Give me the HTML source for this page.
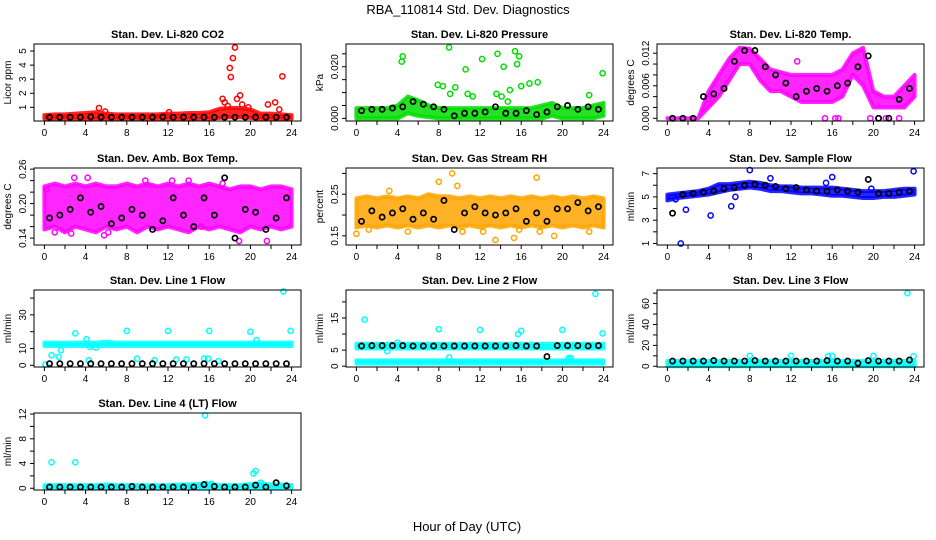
<!DOCTYPE html>
<html><head><meta charset="utf-8">
<style>
html,body{margin:0;padding:0;background:#fff;}
svg{display:block;font-family:"Liberation Sans",Arial,sans-serif;}
</style></head>
<body>
<svg id="chart" width="936" height="540" viewBox="0 0 936 540">
<text x="468" y="14" text-anchor="middle" font-size="13">RBA_110814  Std. Dev. Diagnostics</text>
<text x="467" y="531" text-anchor="middle" font-size="13">Hour of Day (UTC)</text>
</svg>
<script>
// ---- shared data ----
const xTicks = [0,2,4,6,8,10,12,14,16,18,20,22,24];
const xTickLabels = [0,4,8,12,16,20,24];
const bandHours = [0,1,2,3,4,5,6,7,8,9,10,11,12,13,14,15,16,17,18,19,20,21,22,23,24];
const blackHours = [0.5,1.5,2.5,3.5,4.5,5.5,6.5,7.5,8.5,9.5,10.5,11.5,12.5,13.5,14.5,15.5,16.5,17.5,18.5,19.5,20.5,21.5,22.5,23.5];

// CO2
const co2Lo = [0.2,0.2,0.2,0.2,0.2,0.2,0.2,0.2,0.2,0.2,0.2,0.2,0.2,0.2,0.2,0.2,0.2,0.25,0.3,0.3,0.25,0.2,0.2,0.2,0.2];
const co2Hi = [0.45,0.5,0.5,0.55,0.6,0.65,0.55,0.5,0.5,0.5,0.5,0.5,0.55,0.55,0.6,0.6,0.65,0.9,0.95,0.95,0.85,0.55,0.55,0.5,0.45];
const co2OutX = [5.3,5.9,12.1,17.3,17.5,17.8,18.0,18.1,18.3,18.5,18.7,19.0,19.2,19.8,21.7,22.4,22.8,23.1];
const co2OutY = [0.95,0.7,0.65,1.6,1.35,1.1,3.8,3.15,4.5,5.25,1.6,1.85,1.2,1.0,1.2,1.35,0.85,3.2];
const co2Black = [0.3,0.3,0.3,0.3,0.32,0.3,0.3,0.3,0.3,0.3,0.3,0.32,0.3,0.3,0.3,0.3,0.3,0.3,0.3,0.3,0.3,0.3,0.3,0.3];

// Pressure
const presLo = [0,0,0,0,0,0.002,0.001,0.0005,0,0,0,0,0,0,0,0,0,0,0,0.001,0,0,0,0,0.001];
const presHi = [0.004,0.004,0.004,0.004,0.005,0.0085,0.007,0.005,0.004,0.004,0.004,0.004,0.004,0.004,0.004,0.004,0.004,0.004,0.005,0.006,0.004,0.004,0.004,0.005,0.006];
const presOutX = [4.4,4.5,9.0,13.7,15.4,15.8,12.2,14.3,10.6,15.6,7.9,8.4,9.6,9.1,10.8,11.3,13.6,14.1,14.9,16.0,16.8,17.6,22.6,23.9,14.7];
const presOutY = [0.022,0.024,0.0275,0.025,0.026,0.024,0.023,0.020,0.019,0.021,0.013,0.0125,0.012,0.0095,0.0095,0.0085,0.0095,0.0085,0.011,0.0125,0.0135,0.014,0.009,0.0175,0.0065];
const presBlack = [0.003,0.0035,0.0035,0.004,0.0045,0.0065,0.0055,0.0045,0.0035,0.001,0.002,0.002,0.0025,0.0045,0.002,0.002,0.003,0.0015,0.0025,0.0045,0.005,0.0035,0.0045,0.0035];

// Li-820 Temp
const tempLo = [0,0,0,0,0.002,0.004,0.007,0.010,0.010,0.007,0.005,0.005,0.004,0.003,0.003,0.003,0.003,0.004,0.008,0.006,0.002,0.002,0.002,0.002,0.004];
const tempHi = [0,0,0,0,0.005,0.008,0.011,0.013,0.0128,0.011,0.009,0.0085,0.008,0.008,0.008,0.008,0.008,0.009,0.012,0.013,0.005,0.004,0.004,0.006,0.008];
const tempOutX = [15.3,16.3,16.6,19.7,20.5,21.2,22.5,12.6,4.0];
const tempOutY = [0,0,0,0,0,0,0,0.0105,0.0035];
const tempBlack = [0,0,0,0.004,0.0045,0.0055,0.0105,0.0125,0.0125,0.0095,0.008,0.0065,0.004,0.005,0.0055,0.005,0.006,0.0065,0.0095,0.0115,0,0,0.0035,0.0055];

// Amb box temp
const ambLo = [0.155,0.16,0.15,0.16,0.155,0.15,0.16,0.155,0.16,0.15,0.16,0.155,0.16,0.155,0.15,0.16,0.155,0.16,0.155,0.15,0.16,0.155,0.16,0.155,0.16];
const ambHi = [0.23,0.235,0.23,0.235,0.23,0.235,0.23,0.23,0.235,0.23,0.235,0.23,0.235,0.23,0.235,0.23,0.235,0.23,0.225,0.23,0.23,0.225,0.23,0.23,0.225];
const ambOutX = [0.2,2.9,1.0,6.2,14.0,9.8,17.3,18.9,21.6,4.2,2.6,15.2,5.8,12.4];
const ambOutY = [0.225,0.245,0.150,0.15,0.24,0.24,0.235,0.135,0.135,0.245,0.148,0.16,0.145,0.24];
const ambBlack = [0.175,0.18,0.19,0.21,0.185,0.195,0.165,0.175,0.19,0.18,0.155,0.17,0.21,0.18,0.16,0.21,0.18,0.245,0.14,0.19,0.185,0.155,0.175,0.21];

// Gas stream RH
const rhLo = [0.17,0.175,0.17,0.175,0.17,0.175,0.17,0.175,0.17,0.175,0.17,0.175,0.17,0.175,0.17,0.175,0.17,0.175,0.17,0.175,0.17,0.175,0.17,0.175,0.17];
const rhHi = [0.24,0.245,0.24,0.245,0.24,0.245,0.24,0.25,0.245,0.245,0.24,0.245,0.24,0.245,0.24,0.245,0.24,0.245,0.24,0.245,0.24,0.245,0.24,0.245,0.24];
const rhOutX = [0,9.3,17.5,9.8,3.2,15.8,17.8,12.3,19.2,10.3,13.5,15.3,22.6,8.0,1.2,5.0];
const rhOutY = [0.155,0.3,0.29,0.27,0.258,0.165,0.16,0.16,0.15,0.16,0.14,0.145,0.16,0.28,0.165,0.16];
const rhBlack = [0.185,0.21,0.195,0.205,0.215,0.19,0.205,0.19,0.235,0.165,0.205,0.22,0.205,0.2,0.205,0.215,0.185,0.205,0.185,0.215,0.215,0.23,0.21,0.22];

// Sample flow
const sfLo = [4.7,4.9,5.0,5.1,5.2,5.4,5.6,5.7,5.8,5.7,5.5,5.5,5.4,5.3,5.3,5.2,5.1,5.1,5.0,4.9,4.9,5.0,5.0,5.1,5.2];
const sfHi = [5.2,5.3,5.4,5.5,5.7,6.1,6.1,6.2,6.3,6.2,6.0,5.9,5.9,5.8,5.8,5.8,5.8,5.7,5.6,5.5,5.5,5.5,5.6,5.7,5.7];
const sfOutX = [1.3,1.8,4.2,6.2,6.6,8.0,10.0,16.0,15.4,19.8,23.9,0.8];
const sfOutY = [1.0,3.9,3.4,4.2,5.0,7.3,6.6,6.7,6.2,5.7,7.2,4.8];
const sfBlack = [3.6,5.2,5.3,5.4,5.5,5.7,5.8,6.0,6.1,6.0,5.9,5.7,5.8,5.6,5.5,5.5,5.6,5.5,5.4,6.5,5.3,5.3,5.4,5.5];

// Line 1 flow
const l1Lo = [11.5,11.5,11.5,11.5,11.5,11.5,11.5,11.5,11.5,11.5,11.5,11.5,11.5,11.5,11.5,11.5,11.5,11.5,11.5,11.5,11.5,11.5,11.5,11.5,11.5];
const l1Hi = [13.5,13.5,13.5,13.5,13.5,13.5,14,13.5,13.5,13.5,13.5,13.5,13.5,13.5,13.5,13.5,13.5,13.5,13.5,13.5,13.5,13.5,13.5,13.5,13.5];
const l1OutX = [0.1,0.7,1.4,1.6,3.0,4.1,4.4,5.0,8.0,12.0,16.0,20.0,20.6,23.2,23.9,4.3,9.0,10.7,12.8,13.8,15.5,15.9,16.9];
const l1OutY = [0.5,6,5,9,19,15.5,11,10.5,20.5,20.5,20.5,20,15,44,20.5,3,4,3,3.5,3.5,4,4,2.5];
const l1Black = [1,1,1,1,1,1,1,1,1,1,1,1,1,1,1,1,1,1,1,1,1,1,1,1];

// Line 2 flow
const l2Lo = [5.5,5.5,5.5,5.5,5.5,5.5,5.5,5.5,5.5,5.5,5.5,5.5,5.5,5.5,5.5,5.5,5.5,5.5,5.5,5.5,5.5,5.5,5.5,5.5,5.5];
const l2Hi = [7,7,7,7,7,7,7,7,7,7,7,7,7,7,7,7,7,7,7,7,7,7,7,7,7];
const l2Lo2 = [0.8,0.8,0.8,0.8,0.8,0.8,0.8,0.8,0.8,0.8,0.8,0.8,0.8,0.8,0.8,0.8,0.8,0.8,0.8,0.8,0.8,0.8,0.8,0.8,0.8];
const l2Hi2 = [1.8,1.8,1.8,1.8,1.8,1.8,1.8,1.8,1.8,1.8,1.8,1.8,1.8,1.8,1.8,1.8,1.8,1.8,1.8,1.8,1.8,1.8,1.8,1.8,1.8];
const l2OutX = [0.8,3.0,4.0,8.0,9.0,12.0,15.7,16.0,20.0,20.6,20.8,23.2,23.9];
const l2OutY = [14.5,4.7,7.3,11.5,2.7,11.3,10,11,11.3,2.5,2.5,22.5,10.2];
const l2Black = [6.3,6.4,6.4,6.4,6.4,6.3,6.3,6.3,6.3,6.3,6.3,6.3,6.3,6.3,6.3,6.4,6.3,6.3,3.0,6.4,6.4,6.4,6.3,6.4];

// Line 3 flow
const l3Lo = [0,0,0,0,0,0,0,0,0,0,0,0,0,0,0,0,0,0,0,0,0,0,0,0,0];
const l3Hi = [5,5,5,5,5,5,5,5,5,5,5,5,5,5,5,5,5,5,5,5,5,5,5,5,5];
const l3OutX = [8.0,12.0,15.6,16.0,20.0,23.3,23.9];
const l3OutY = [10,10,9.5,9.8,10,70,9.5];
const l3Black = [5,5,5,5,5.5,5,5,5,5.5,5,5,5,5,5,5,5.5,5,5,3,5.5,5,5,5,6];

// Line 4 flow
const l4Lo = [0,0,0,0,0,0,0,0,0,0,0,0,0,0,0,0,0,0,0,0,0,0,0,0,0];
const l4Hi = [0.5,0.5,0.5,0.5,0.5,0.5,0.6,0.5,0.5,0.5,0.5,0.5,0.5,0.6,0.6,0.7,0.8,0.5,0.5,0.5,0.7,0.8,0.6,0.6,0.5];
const l4OutX = [0.7,3.0,15.6,20.3,20.5,21.0,15.7,16.2];
const l4OutY = [4.2,4.2,11.8,2.4,2.8,0.9,0.7,0.7];
const l4Black = [0.2,0.2,0.2,0.2,0.2,0.2,0.2,0.2,0.3,0.2,0.2,0.2,0.2,0.2,0.2,0.6,0.3,0.2,0.2,0.2,0.5,0.2,0.9,0.4];

const svg = document.getElementById('chart');
const NS = 'http://www.w3.org/2000/svg';
function mk(tag, attrs, parent){
  const e = document.createElementNS(NS, tag);
  for (const k in attrs) e.setAttribute(k, attrs[k]);
  (parent || svg).appendChild(e);
  return e;
}

function panel(cfg){
  const L = cfg.left, T = cfg.top, W = 267, H = 77, B = T + H;
  const g = mk('g', {});
  
  
  const x0 = L + W * (0.04/1.08) + 0.5, xs = (W / 1.08) / 24;
  const X = h => x0 + h * xs;
  const [ymin, ymax] = cfg.ylim;
  const Y = v => B - (v - ymin) / (ymax - ymin) * H;

  cfg.bands.forEach((bd) => {
    let pts = bandHours.map((h, i) => X(h) + ',' + Y(bd[1][i]));
    pts = pts.concat(bandHours.slice().reverse().map((h, j) => {
      const i = bandHours.length - 1 - j; return X(h) + ',' + Y(bd[0][i]);
    }));
    const p = mk('polygon', {points: pts.join(' '), fill: cfg.color, 'fill-opacity': 0.85, stroke: cfg.color, 'stroke-opacity': 0.85, 'stroke-width': 4, 'stroke-linejoin': 'round'}, g);
    
    
  });
  cfg.outX.forEach((h, i) => {
    const c = mk('circle', {cx: X(h), cy: Y(cfg.outY[i]), r: 2.6, fill: 'none', stroke: cfg.color, 'stroke-width': 1.5}, g);
    
    
  });
  cfg.black.forEach((v, i) => {
    const c = mk('circle', {cx: X(blackHours[i]), cy: Y(v), r: 2.6, fill: 'none', stroke: '#000', 'stroke-width': 1.7}, g);
    
    
  });
  const box = mk('rect', {x: L, y: T, width: W, height: H, fill: 'none', stroke: '#000', 'stroke-width': 1}, g);
  
  
  xTicks.forEach(t => {
    mk('line', {x1: X(t), x2: X(t), y1: B, y2: B + 4, stroke: '#000'}, g);
  });
  xTickLabels.forEach(t => {
    const tx = mk('text', {x: X(t), y: B + 15, 'text-anchor': 'middle', 'font-size': 10}, g);
    tx.textContent = t;
    
    
  });
  cfg.yticks.forEach(t => {
    mk('line', {x1: L, x2: L - 4, y1: Y(t), y2: Y(t), stroke: '#000'}, g);
  });
  cfg.ylabels.forEach(t => {
    const yy = Y(t);
    const tx = mk('text', {x: L - 8, y: yy, 'text-anchor': 'middle', 'font-size': 10, transform: `rotate(-90 ${L - 8} ${yy})`}, g);
    tx.textContent = t;
    
    
  });
  const ym = T + H / 2;
  const yt = mk('text', {x: L - 23, y: ym, 'text-anchor': 'middle', 'font-size': 10, transform: `rotate(-90 ${L - 23} ${ym})`}, g);
  yt.textContent = cfg.ytitle;
  
  
  const tt = mk('text', {x: L + W / 2, y: T - 6, 'text-anchor': 'middle', 'font-size': 11, 'font-weight': 'bold'}, g);
  tt.textContent = cfg.title;
  
  
}

const C1 = 34, C2 = 346, C3 = 657;
const R1 = 44, R2 = 168, R3 = 290, R4 = 413;

panel({name:'co2', left:C1, top:R1, color:'#ff0000', title:'Stan. Dev. Li-820 CO2', ytitle:'Licor ppm',
  ylim:[0.03,5.5], yticks:[1,2,3,4,5], ylabels:[1,2,3,4,5], bands:[[co2Lo,co2Hi]], outX:co2OutX, outY:co2OutY, black:co2Black});
panel({name:'pressure', left:C2, top:R1, color:'#00dd00', title:'Stan. Dev. Li-820 Pressure', ytitle:'kPa',
  ylim:[-0.001,0.0288], yticks:[0,0.005,0.01,0.015,0.02,0.025], ylabels:['0.000','0.020'], bands:[[presLo,presHi]], outX:presOutX, outY:presOutY, black:presBlack});
panel({name:'li820-temp', left:C3, top:R1, color:'#ff00ff', title:'Stan. Dev. Li-820 Temp.', ytitle:'degrees C',
  ylim:[-0.0005,0.0137], yticks:[0,0.002,0.004,0.006,0.008,0.01,0.012], ylabels:['0.000','0.006','0.012'], bands:[[tempLo,tempHi]], outX:tempOutX, outY:tempOutY, black:tempBlack});

panel({name:'amb-box-temp', left:C1, top:R2, color:'#ff00ff', title:'Stan. Dev. Amb. Box Temp.', ytitle:'degrees C',
  ylim:[0.128,0.262], yticks:[0.14,0.16,0.18,0.2,0.22,0.24,0.26], ylabels:['0.14','0.20','0.26'], bands:[[ambLo,ambHi]], outX:ambOutX, outY:ambOutY, black:ambBlack});
panel({name:'gas-rh', left:C2, top:R2, color:'#ffa500', title:'Stan. Dev. Gas Stream RH', ytitle:'percent',
  ylim:[0.128,0.313], yticks:[0.15,0.2,0.25,0.3], ylabels:['0.15','0.25'], bands:[[rhLo,rhHi]], outX:rhOutX, outY:rhOutY, black:rhBlack});
panel({name:'sample-flow', left:C3, top:R2, color:'#0000ff', title:'Stan. Dev. Sample Flow', ytitle:'ml/min',
  ylim:[0.87,7.48], yticks:[1,2,3,4,5,6,7], ylabels:[1,3,5,7], bands:[[sfLo,sfHi]], outX:sfOutX, outY:sfOutY, black:sfBlack});

panel({name:'line1-flow', left:C1, top:R3, color:'#00ffff', title:'Stan. Dev. Line 1 Flow', ytitle:'ml/min',
  ylim:[-1.0,44.8], yticks:[0,10,20,30,40], ylabels:[0,10,30], bands:[[l1Lo,l1Hi]], outX:l1OutX, outY:l1OutY, black:l1Black});
panel({name:'line2-flow', left:C2, top:R3, color:'#00ffff', title:'Stan. Dev. Line 2 Flow', ytitle:'ml/min',
  ylim:[-0.25,23.7], yticks:[0,5,10,15,20], ylabels:[0,5,15], bands:[[l2Lo,l2Hi],[l2Lo2,l2Hi2]], outX:l2OutX, outY:l2OutY, black:l2Black});
panel({name:'line3-flow', left:C3, top:R3, color:'#00ffff', title:'Stan. Dev. Line 3 Flow', ytitle:'ml/min',
  ylim:[-0.7,73], yticks:[0,10,20,30,40,50,60,70], ylabels:[0,20,40,60], bands:[[l3Lo,l3Hi]], outX:l3OutX, outY:l3OutY, black:l3Black});

panel({name:'line4-flow', left:C1, top:R4, color:'#00ffff', title:'Stan. Dev. Line 4 (LT) Flow', ytitle:'ml/min',
  ylim:[-0.28,12.17], yticks:[0,2,4,6,8,10,12], ylabels:[0,4,8,12], bands:[[l4Lo,l4Hi]], outX:l4OutX, outY:l4OutY, black:l4Black});
</script>
</body></html>
